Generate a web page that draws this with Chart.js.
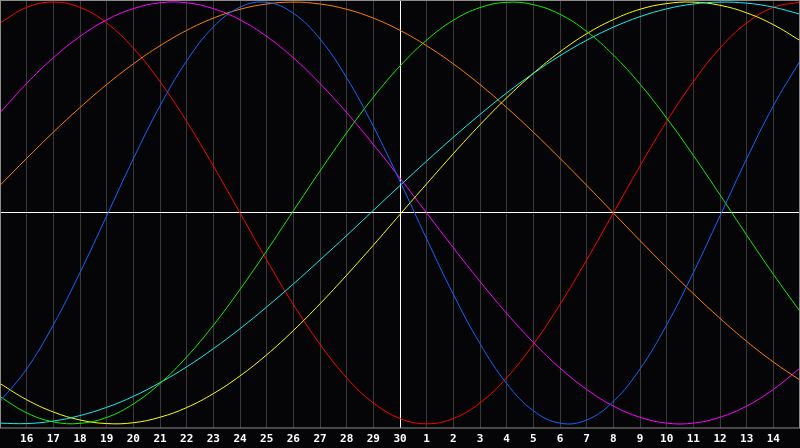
<!DOCTYPE html>
<html>
<head>
<meta charset="utf-8">
<script src="https://cdn.jsdelivr.net/npm/chart.js@4"></script>
<style>
  html, body { margin: 0; padding: 0; background: #050507; }
  canvas { display: block; background: #050507; }
</style>
</head>
<body>
<canvas id="c" width="800" height="448"></canvas>
<script>
// day positions (0 = the 15th of the previous month, 30 = the 15th of the next)
const days = [0,1,2,3,4,5,6,7,8,9,10,11,12,13,14,15,16,17,18,19,20,21,22,23,24,25,26,27,28,29,30];
// labels shown for positions 1..29
const tickLabels = ['16','17','18','19','20','21','22','23','24','25','26','27','28','29','30',
                    '1','2','3','4','5','6','7','8','9','10','11','12','13','14'];

const blueVals    = [-89.4,-74.0,-53.1,-28.3,-1.4,25.7,50.8,72.1,88.2,97.6,99.9,94.7,82.5,64.1,41.1,15.0,-12.3,-38.6,-62.0,-80.9,-93.8,-99.7,-98.2,-89.4,-74.0,-53.1,-28.3,-1.4,25.7,50.8,72.1];
const redVals     = [90.1,97.5,100,97.5,90.1,78.2,62.3,43.4,22.3,0,-22.3,-43.4,-62.3,-78.2,-90.1,-97.5,-100,-97.5,-90.1,-78.2,-62.3,-43.4,-22.3,0,22.3,43.4,62.3,78.2,90.1,97.5,100];
const greenVals   = [-87.1,-94.8,-99.1,-99.8,-97.0,-90.6,-80.9,-68.3,-53.3,-36.3,-18.0,1.0,19.9,38.0,54.9,69.7,82.0,91.4,97.4,99.9,98.8,94.2,86.1,74.9,61.1,45.0,27.3,8.6,-10.5,-29.1,-46.7];
const magentaVals = [47.6,61.4,73.6,83.7,91.6,96.9,99.7,99.7,96.9,91.6,83.7,73.6,61.4,47.6,32.5,16.5,0,-16.5,-32.5,-47.6,-61.4,-73.6,-83.7,-91.6,-96.9,-99.7,-99.7,-96.9,-91.6,-83.7,-73.6];
const orangeVals  = [13.1,25.9,38.3,50.0,60.9,70.7,79.3,86.6,92.4,96.6,99.1,100,99.1,96.6,92.4,86.6,79.3,70.7,60.9,50.0,38.3,25.9,13.1,0,-13.1,-25.9,-38.3,-50.0,-60.9,-70.7,-79.3];
const cyanVals    = [-99.7,-99.9,-98.7,-96.1,-92.2,-87.0,-80.5,-73.0,-64.4,-54.9,-44.6,-33.7,-22.3,-10.7,1.2,13.0,24.6,35.9,46.7,56.9,66.2,74.6,81.9,88.1,93.1,96.8,99.1,100.0,99.5,97.6,94.3];
const yellowVals  = [-80.9,-88.6,-94.4,-98.2,-99.9,-99.5,-96.9,-92.3,-85.7,-77.3,-67.3,-55.8,-43.1,-29.5,-15.3,-0.7,13.8,28.1,41.8,54.6,66.2,76.4,85.0,91.7,96.6,99.3,100.0,98.5,94.9,89.3,81.8];

const todayPos = 15;

function pts(vals) { return vals.map((v, i) => ({ x: days[i], y: v })); }
function ds(vals, color) {
  return { data: pts(vals), borderColor: color, borderWidth: 1, pointRadius: 0,
           pointHoverRadius: 0, pointHitRadius: 0, fill: false, tension: 0.4 };
}

const framePlugin = {
  id: 'frame',
  afterDraw(chart) {
    const a = chart.chartArea, ctx = chart.ctx;
    ctx.save();
    ctx.strokeStyle = '#8c8c8c';
    ctx.lineWidth = 1;
    ctx.strokeRect(a.left + 0.5, a.top + 0.5, a.right - a.left - 1, a.bottom - a.top - 0.5);
    ctx.restore();
  }
};

new Chart(document.getElementById('c'), {
  type: 'line',
  data: {
    datasets: [
      ds(blueVals, '#1464ff'),
      ds(greenVals, '#10f000'),
      ds(cyanVals, '#10f0f0'),
      ds(yellowVals, '#ffff00'),
      ds(orangeVals, '#ff8000'),
      ds(magentaVals, '#ff00ff'),
      ds(redVals, '#ff0000')
    ]
  },
  options: {
    responsive: false,
    animation: false,
    events: [],
    layout: { padding: 0, autoPadding: false },
    plugins: { legend: { display: false }, tooltip: { enabled: false }, title: { display: false } },
    scales: {
      x: {
        type: 'linear',
        min: 0, max: 30,
        afterFit(scale) { scale.height = 20; scale.paddingLeft = 0; scale.paddingRight = 0; },
        border: { display: false },
        grid: {
          drawTicks: false,
          lineWidth: 1,
          color: ctx => {
            const v = ctx.tick ? ctx.tick.value : null;
            if (v === 0 || v === 30) return 'rgba(0,0,0,0)';
            return v === todayPos ? '#ffffff' : '#3a3a3a';
          }
        },
        ticks: {
          stepSize: 1,
          autoSkip: false,
          maxRotation: 0,
          padding: 0,
          color: '#ffffff',
          font: { family: 'DejaVu Sans Mono', size: 11, weight: 'bold', lineHeight: 2 },
          callback: v => (v >= 1 && v <= 29) ? tickLabels[v - 1] : ''
        }
      },
      y: {
        type: 'linear',
        min: -102, max: 101,
        border: { display: false },
        ticks: { display: false, stepSize: 50 },
        grid: {
          drawTicks: false,
          color: ctx => (ctx.tick && ctx.tick.value === 0) ? '#ffffff' : 'rgba(0,0,0,0)'
        }
      }
    }
  },
  plugins: [framePlugin]
});
</script>
</body>
</html>
